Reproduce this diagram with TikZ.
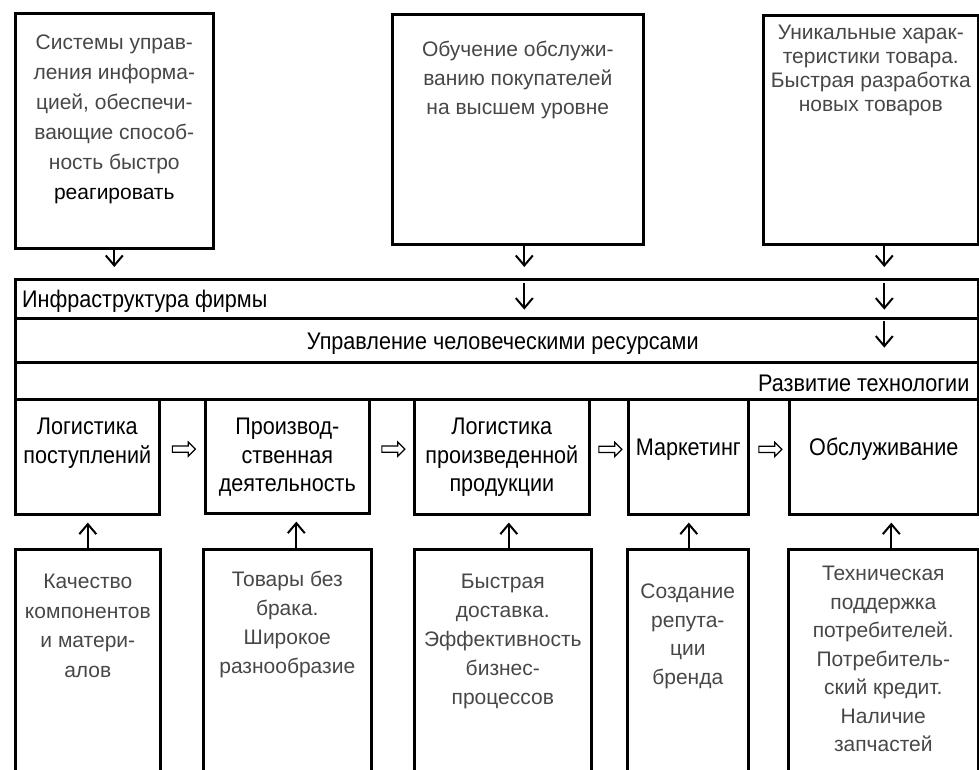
\documentclass[tikz,border=0pt]{standalone}
\usepackage{fontspec}
\setmainfont{Liberation Sans}
\newfontfamily\narrowfont[FakeStretch=0.9]{Liberation Sans}
\usetikzlibrary{arrows.meta,shapes.arrows,calc}
\colorlet{desctext}{black!72}
\tikzset{
  frame/.style={draw, line width=2.6pt, inner sep=0pt, anchor=north west},
  desc/.style={align=center, inner sep=0pt, anchor=north, text=desctext, font=\fontsize{21}{#1}\selectfont},
  desc/.default=29,
  lbl/.style={align=center, inner sep=0pt, font=\narrowfont\fontsize{24}{28.5}\selectfont},
  down/.style={-{Straight Barb[length=10pt,width=17pt]}, line width=2pt},
  hollow/.style={single arrow, draw, line width=1.2pt, inner sep=2.5pt, single arrow head extend=4pt, single arrow head indent=0pt, minimum height=23pt}
}
\begin{document}
\begin{tikzpicture}[x=1pt,y=-1pt]
        \useasboundingbox (0,0) rectangle (979,769);
        \clip (0,0) rectangle (979,769);

        \node[frame, minimum width=198pt, minimum height=235pt] (sys) at (14,12) {};
        \node[frame, minimum width=251pt, minimum height=230pt] (train) at (391,13) {};
        \node[frame, minimum width=215pt, minimum height=229pt] (uniq) at (762,14) {};
        \node[desc=30] (sys-t) at ($(sys.north)+(0,23)$) {Системы управ-\\ления информа-\\цией, обеспечи-\\вающие способ-\\ность быстро\\{\color{black}реагировать}};
        \node[desc=29] (train-t) at ($(train.north)+(0,28)$) {Обучение обслужи-\\ванию покупателей\\на высшем уровне};
        \node[desc=24] (uniq-t) at ($(uniq.north)+(0,11)$) {Уникальные харак-\\теристики товара.\\Быстрая разработка\\новых товаров};

        \node[frame, minimum width=963pt, minimum height=39pt] (infra) at (14,278) {};
        \node[frame, minimum width=963pt, minimum height=44pt] (hr) at (14,317) {};
        \node[frame, minimum width=963pt, minimum height=37pt] (tech) at (14,361) {};
        \node[lbl, anchor=base west] (infra-t) at ($(infra.south west)+(8,-12)$) {Инфраструктура фирмы};
        \node[lbl, anchor=base] (hr-t) at ($(hr.south)+(6,-14)$) {Управление человеческими ресурсами};
        \node[lbl, anchor=base east] (tech-t) at ($(tech.south east)+(-10,-9)$) {Развитие технологии};

        \node[frame, minimum width=144pt, minimum height=115pt] (inb) at (14,398) {};
        \node[frame, minimum width=164pt, minimum height=114pt] (ops) at (204,398) {};
        \node[frame, minimum width=175pt, minimum height=115pt] (outb) at (413,398) {};
        \node[frame, minimum width=120pt, minimum height=115pt] (mkt) at (627,398) {};
        \node[frame, minimum width=189pt, minimum height=115pt] (serv) at (788,398) {};
        \node[lbl, anchor=north] (inb-t) at ($(inb.north)+(0,20)$) {Логистика\\поступлений};
        \node[lbl, anchor=north] (ops-t) at ($(ops.north)+(0,20)$) {Производ-\\ственная\\деятельность};
        \node[lbl, anchor=north] (outb-t) at ($(outb.north)+(0,20)$) {Логистика\\произведенной\\продукции};
        \node[lbl, anchor=base] (mkt-t) at ($(mkt.north)+(0,57)$) {Маркетинг};
        \node[lbl, anchor=base] (serv-t) at ($(serv.north)+(0,57)$) {Обслуживание};

        \node[frame, minimum width=145pt, minimum height=260pt] (qual) at (14,548) {};
        \node[frame, minimum width=168pt, minimum height=260pt] (goods) at (202,548) {};
        \node[frame, minimum width=177pt, minimum height=260pt] (deliv) at (413,548) {};
        \node[frame, minimum width=121pt, minimum height=260pt] (brand) at (626,548) {};
        \node[frame, minimum width=190pt, minimum height=260pt] (supp) at (787,548) {};
        \node[desc=29.5] (qual-t) at ($(qual.north)+(0,26)$) {Качество\\компонентов\\и матери-\\алов};
        \node[desc=29] (goods-t) at ($(goods.north)+(0,23)$) {Товары без\\брака.\\Широкое\\разнообразие};
        \node[desc=29] (deliv-t) at ($(deliv.north)+(0,26)$) {Быстрая\\доставка.\\Эффективность\\бизнес-\\процессов};
        \node[desc=28.5] (brand-t) at ($(brand.north)+(0,36)$) {Создание\\репута-\\ции\\бренда};
        \node[desc=28.5] (supp-t) at ($(supp.north)+(0,18)$) {Техническая\\поддержка\\потребителей.\\Потребитель-\\ский кредит.\\Наличие\\запчастей};

        \foreach \b/\dx in {sys/0,train/6.5,uniq/13.5}{
            \coordinate (\b-a) at ([xshift=\dx pt]\b.south);
            \draw[down, shorten >=11pt] (\b-a) -- (\b-a |- infra.north);
        }
        \draw[down, shorten <=5pt, shorten >=10pt] (train-a |- infra.north) -- (train-a |- infra.south);
        \draw[down, shorten <=5pt, shorten >=10pt] (uniq-a |- infra.north) -- (uniq-a |- infra.south);
        \draw[down, shorten <=4pt, shorten >=16pt] (uniq-a |- hr.north) -- (uniq-a |- hr.south);

        \foreach \b/\a/\dx in {qual/inb/0,goods/ops/9,deliv/outb/6,brand/mkt/1,supp/serv/8}{
            \coordinate (\b-a) at ([xshift=\dx pt]\b.north);
            \draw[down, shorten >=7pt] (\b-a) -- (\b-a |- \a.south);
        }

        \foreach \l/\r [count=\i] in {inb/ops,ops/outb,outb/mkt,mkt/serv}{
            \node[hollow] (h\i) at ($(\l.east)!.5!(\r.west)+(0,-7.5)$) {};
        }
\end{tikzpicture}
\end{document}
